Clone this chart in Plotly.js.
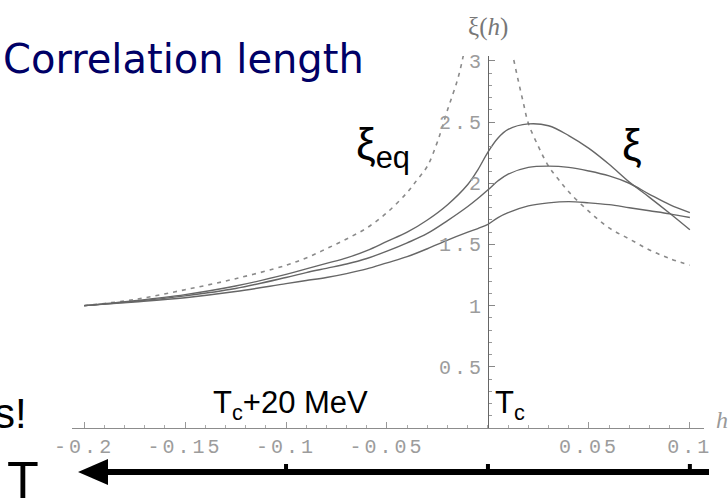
<!DOCTYPE html>
<html><head><meta charset="utf-8">
<script src="https://cdn.plot.ly/plotly-3.0.1.min.js"></script>
<style>
html,body{margin:0;padding:0;background:#fff;overflow:hidden;}
#chart{width:728px;height:503px;}
.xtick text,.ytick text{letter-spacing:3px;}
</style></head><body><div id="chart"></div>
<script>
// ---- data ----
const xSolid = [-0.2, -0.175, -0.15, -0.125, -0.1, -0.09, -0.08, -0.07, -0.06, -0.05, -0.04, -0.03, -0.02, -0.01, -0.005, 0, 0.005, 0.01, 0.02, 0.03, 0.04, 0.05, 0.06, 0.07, 0.08, 0.09, 0.1];
const xiTop = [1.00, 1.04, 1.09, 1.16, 1.255, 1.30, 1.345, 1.39, 1.45, 1.525, 1.60, 1.70, 1.825, 1.99, 2.11, 2.255, 2.37, 2.44, 2.485, 2.47, 2.39, 2.285, 2.155, 2.01, 1.885, 1.755, 1.62];
const xiMid = [1.00, 1.035, 1.08, 1.14, 1.23, 1.27, 1.305, 1.34, 1.385, 1.445, 1.513, 1.59, 1.695, 1.81, 1.875, 1.946, 2.02, 2.075, 2.13, 2.14, 2.13, 2.10, 2.06, 2.00, 1.91, 1.825, 1.76];
const xiLow = [1.00, 1.03, 1.065, 1.115, 1.18, 1.205, 1.23, 1.262, 1.30, 1.35, 1.40, 1.465, 1.535, 1.60, 1.63, 1.665, 1.72, 1.76, 1.815, 1.84, 1.85, 1.84, 1.825, 1.80, 1.775, 1.75, 1.72];
const xEq = [-0.2, -0.175, -0.15, -0.125, -0.1, -0.09, -0.08, -0.07, -0.06, -0.05, -0.04, -0.035, -0.03, -0.025, -0.02, -0.015, -0.0125, -0.011, 0, 0.011, 0.0125, 0.015, 0.0175, 0.02, 0.025, 0.03, 0.035, 0.04, 0.05, 0.06, 0.07, 0.08, 0.09, 0.1];
const xiEq = [1.00, 1.05, 1.13, 1.22, 1.33, 1.39, 1.465, 1.545, 1.635, 1.76, 1.925, 2.03, 2.14, 2.34, 2.60, 2.85, 3.02, 3.15, null, 3.15, 3.03, 2.84, 2.66, 2.49, 2.30, 2.14, 2.03, 1.93, 1.77, 1.635, 1.545, 1.455, 1.385, 1.33];
const xTickVals = [-0.2, -0.15, -0.1, -0.05, 0.05, 0.1];
const xTickText = ["-0.2", "-0.15", "-0.1", "-0.05", "0.05", "0.1"];
const yTickVals = [0.5, 1, 1.5, 2, 2.5, 3];
const yTickText = ["0.5", "1", "1.5", "2", "2.5", "3"];
const arrowTicks = [-0.1, 0, 0.1];

// ---- layout geometry ----
const W = 728, H = 503;
const M = {l: 72, r: 24, t: 56, b: 75};
const PW = W - M.l - M.r, PH = H - M.t - M.b;
const PX = px => (px - M.l) / PW;
const PY = py => (H - M.b - py) / PH;
const xr = [-0.206, 0.107];
const X2P = x => (x - xr[0]) / (xr[1] - xr[0]);

const solid = {color: '#666', width: 1.4, shape: 'spline', smoothing: 1};
const traces = [
  {x: xEq, y: xiEq, mode: 'lines', line: {color: '#8a8a8a', width: 1.6, dash: '4px,5px', shape: 'spline', smoothing: 1}, connectgaps: false, hoverinfo: 'skip'},
  {x: xSolid, y: xiTop, mode: 'lines', line: solid, hoverinfo: 'skip'},
  {x: xSolid, y: xiMid, mode: 'lines', line: solid, hoverinfo: 'skip'},
  {x: xSolid, y: xiLow, mode: 'lines', line: solid, hoverinfo: 'skip'}
];

const tickFont = {family: 'Liberation Mono, Courier New, monospace', size: 20, color: '#9c9c9c'};
const black = 'Liberation Sans, Arial, sans-serif';

const ann = (text, px, py, size, opts) => Object.assign({
  text: text, xref: 'paper', yref: 'paper', x: PX(px), y: PY(py),
  xanchor: 'left', yanchor: 'middle', showarrow: false,
  font: {family: black, size: size, color: '#000'}
}, opts || {});

const shapes = [
  {type: 'line', xref: 'paper', yref: 'paper', x0: PX(709), x1: PX(100), y0: PY(472), y1: PY(472), line: {color: '#000', width: 6}},
  {type: 'path', xref: 'paper', yref: 'paper', path: `M ${PX(78)} ${PY(472)} L ${PX(108)} ${PY(459)} L ${PX(108)} ${PY(485)} Z`, fillcolor: '#000', line: {width: 0}}
];
arrowTicks.forEach(v => {
  const p = X2P(v);
  shapes.push({type: 'line', xref: 'paper', yref: 'paper', x0: p, x1: p, y0: PY(472), y1: PY(464), line: {color: '#000', width: 4}});
});

const layout = {
  width: W, height: H, margin: M, paper_bgcolor: '#fff', plot_bgcolor: 'rgba(0,0,0,0)',
  showlegend: false,
  xaxis: {
    range: xr, showgrid: false, zeroline: false, showline: true, linecolor: '#8c8c8c', linewidth: 1.2,
    tickmode: 'array', tickvals: xTickVals, ticktext: xTickText, ticks: 'inside', ticklen: 6, tickcolor: '#999', tickwidth: 1,
    minor: {tickmode: 'linear', tick0: 0, dtick: 0.01, ticks: 'inside', ticklen: 3, tickcolor: '#aaa', tickwidth: 1},
    tickfont: tickFont, fixedrange: true
  },
  yaxis: {
    range: [0, 3.04], anchor: 'free', position: X2P(0), side: 'left',
    showgrid: false, zeroline: false, showline: true, linecolor: '#666', linewidth: 1.5,
    tickmode: 'array', tickvals: yTickVals, ticktext: yTickText, ticks: 'inside', ticklen: 6, tickcolor: '#888', tickwidth: 1,
    minor: {tickmode: 'linear', tick0: 0, dtick: 0.1, ticks: 'inside', ticklen: 3, tickcolor: '#999', tickwidth: 1},
    tickfont: tickFont, fixedrange: true
  },
  shapes: shapes,
  annotations: [
    ann('Correlation length', 1, 58.5, 40, {font: {family: 'DejaVu Sans, Verdana, sans-serif', size: 40, color: '#000066'}}),
    ann('ξ(<i>h</i>)', 488, 27, 25, {xanchor: 'center', font: {family: 'Liberation Serif, Times New Roman, serif', size: 25, color: '#777'}}),
    ann('<i>h</i>', 714, 420, 24, {font: {family: 'Liberation Serif, Times New Roman, serif', size: 24, color: '#999'}}),
    ann('ξ<sub>eq</sub>', 354, 147, 44),
    ann('ξ', 620, 144, 44),
    ann('T<sub>c</sub>+20 MeV', 211, 404.5, 31),
    ann('T<sub>c</sub>', 493, 404.5, 31),
    ann('s!', 29, 413, 42, {xanchor: 'right'}),
    ann('T', 5, 480, 52)
  ]
};

Plotly.newPlot('chart', traces, layout, {staticPlot: true, displayModeBar: false});
</script>
</body></html>
